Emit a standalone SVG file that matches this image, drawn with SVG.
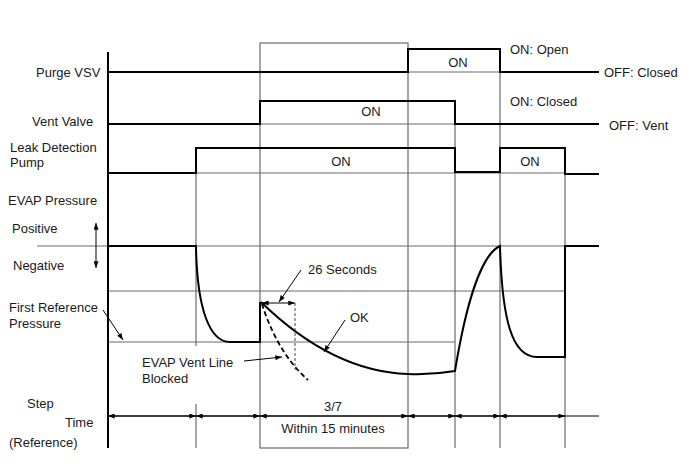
<svg xmlns="http://www.w3.org/2000/svg" width="688" height="463" viewBox="0 0 688 463">
<style>
.t{font-family:"Liberation Sans",Arial,sans-serif;font-size:13px;fill:#1a1a1a}
.m{text-anchor:middle}
.g{stroke:#6a6a6a;stroke-width:1.2;fill:none}
.k{stroke:#000;stroke-width:2;fill:none}
.a{stroke:#000;stroke-width:1;fill:none}
.d{stroke:#000;stroke-width:1.8;fill:none;stroke-dasharray:5,3}
.dt{stroke:#333;stroke-width:0.9;fill:none;stroke-dasharray:3,2}
</style>
<defs>
<marker id="ah" viewBox="0 0 8 6" refX="8" refY="3" markerWidth="7" markerHeight="5" markerUnits="userSpaceOnUse" orient="auto-start-reverse">
<path d="M0,0 L8,3 L0,6 z" fill="#000"/>
</marker>
</defs>
<rect width="688" height="463" fill="#fff"/>
<g id="grid">
<rect x="260" y="43" width="148" height="405" class="g"/>
<line x1="196" y1="148" x2="196" y2="346" class="g"/>
<line x1="196" y1="404" x2="196" y2="448" class="g"/>
<line x1="455" y1="101" x2="455" y2="448" class="g"/>
<line x1="500" y1="49" x2="500" y2="448" class="g"/>
<line x1="565" y1="148" x2="565" y2="448" class="g"/>
<line x1="108" y1="72" x2="599" y2="72" class="g"/>
<line x1="108" y1="124" x2="599" y2="124" class="g"/>
<line x1="108" y1="173" x2="565" y2="173" class="g"/>
<line x1="37" y1="246" x2="599" y2="246" class="g"/>
<line x1="108" y1="291" x2="565" y2="291" class="g"/>
<line x1="108" y1="342" x2="455" y2="342" class="g"/>
</g>
<g id="axis">
<line x1="108" y1="52" x2="108" y2="448" class="k"/>
</g>
<g id="purge-vsv">
<polyline points="108,72 408,72 408,49 500,49 500,72 599,72" class="k"/>
<text x="458" y="67" class="t m">ON</text>
<text x="36" y="77" class="t">Purge VSV</text>
<text x="510" y="54" class="t">ON: Open</text>
<text x="604" y="77" class="t">OFF: Closed</text>
</g>
<g id="vent-valve">
<polyline points="108,124 260,124 260,101 455,101 455,124 599,124" class="k"/>
<text x="371" y="116" class="t m">ON</text>
<text x="32" y="126" class="t">Vent Valve</text>
<text x="510" y="106" class="t">ON: Closed</text>
<text x="609" y="130" class="t">OFF: Vent</text>
</g>
<g id="leak-pump">
<polyline points="108,173 196,173 196,148 455,148 455,172 500,172 500,148 565,148 565,174 599,174" class="k"/>
<text x="341" y="166" class="t m">ON</text>
<text x="530" y="166" class="t m">ON</text>
<text x="10" y="152" class="t">Leak Detection</text>
<text x="10" y="167" class="t">Pump</text>
</g>
<g id="evap-pressure">
<path d="M108,246 L196,246 C197,310 210,342 230,342 L260,342 L260,302" class="k"/>
<path d="M261,302 C300,340 350,372 408,374 Q432,375 455,371 C465,310 480,255 500,246 C502,320 512,357 537,357 L565,357 L565,246 L599,246" class="k"/>
<path d="M262,304 C270,330 285,360 308,380" class="d"/>
<line x1="295" y1="303" x2="295" y2="370" class="dt"/>
<text x="8" y="205" class="t">EVAP Pressure</text>
<text x="12" y="233" class="t">Positive</text>
<text x="13" y="270" class="t">Negative</text>
<line x1="96" y1="223" x2="96" y2="268" class="a" marker-start="url(#ah)" marker-end="url(#ah)"/>
<text x="9" y="312" class="t">First Reference</text>
<text x="9" y="328" class="t">Pressure</text>
<text x="308" y="274" class="t">26 Seconds</text>
<text x="350" y="322" class="t">OK</text>
<text x="142" y="367" class="t">EVAP Vent Line</text>
<text x="142" y="383" class="t">Blocked</text>
</g>
<g id="connectors">
<line x1="103" y1="310" x2="123" y2="340" class="a" marker-end="url(#ah)"/>
<line x1="262" y1="303" x2="295" y2="303" class="a" marker-start="url(#ah)" marker-end="url(#ah)"/>
<line x1="301" y1="270" x2="279" y2="302" class="a" marker-end="url(#ah)"/>
<line x1="345" y1="320" x2="324" y2="352" class="a" marker-end="url(#ah)"/>
<line x1="244" y1="361" x2="282" y2="357" class="a" marker-end="url(#ah)"/>
</g>
<g id="time-row">
<line x1="108" y1="416" x2="599" y2="416" class="a"/>
<line x1="108" y1="416" x2="196" y2="416" class="a" marker-start="url(#ah)" marker-end="url(#ah)"/>
<line x1="196" y1="416" x2="260" y2="416" class="a" marker-start="url(#ah)" marker-end="url(#ah)"/>
<line x1="260" y1="416" x2="408" y2="416" class="a" marker-start="url(#ah)" marker-end="url(#ah)"/>
<line x1="408" y1="416" x2="455" y2="416" class="a" marker-start="url(#ah)" marker-end="url(#ah)"/>
<line x1="455" y1="416" x2="500" y2="416" class="a" marker-start="url(#ah)" marker-end="url(#ah)"/>
<line x1="500" y1="416" x2="565" y2="416" class="a" marker-start="url(#ah)" marker-end="url(#ah)"/>
<text x="27" y="408" class="t">Step</text>
<text x="65" y="427" class="t">Time</text>
<text x="9" y="447" class="t">(Reference)</text>
<text x="333" y="411" class="t m">3/7</text>
<text x="333" y="433" class="t m">Within 15 minutes</text>
</g>
</svg>
